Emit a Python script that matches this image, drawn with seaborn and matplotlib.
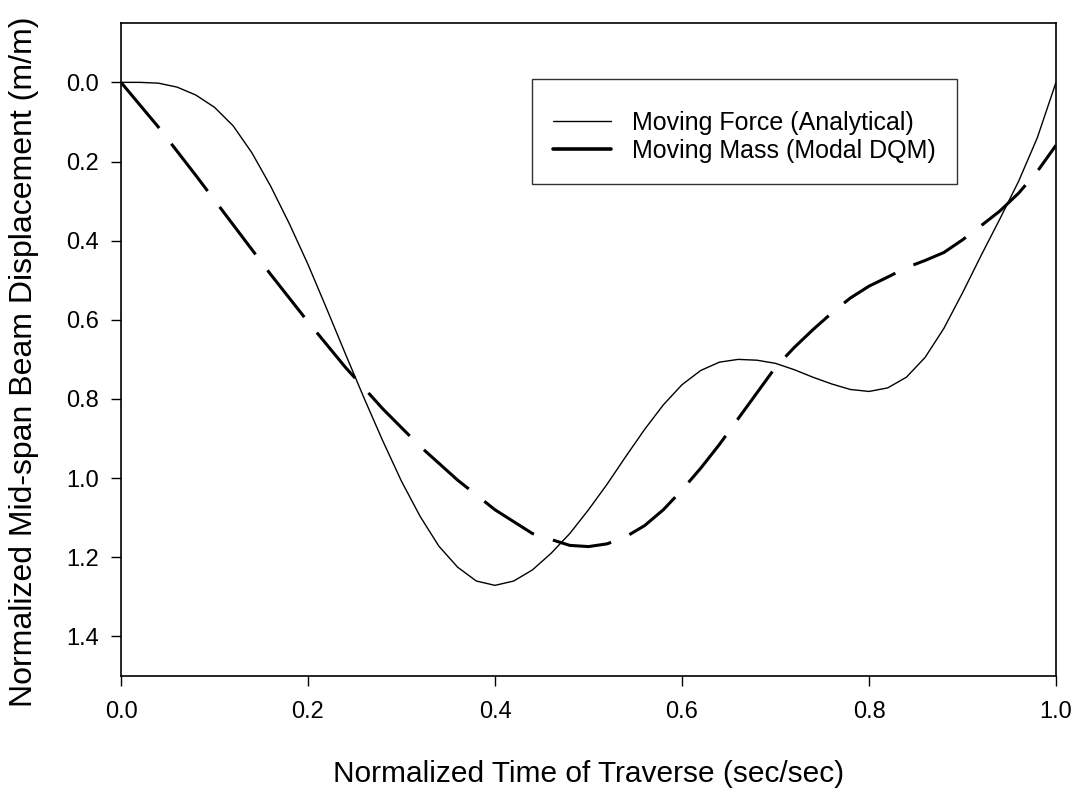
import numpy as np
import pandas as pd
import matplotlib
matplotlib.use("Agg")
import matplotlib.pyplot as plt
from matplotlib.lines import Line2D
import seaborn as sns

# ---- data ----
force_t = [0.00, 0.02, 0.04, 0.06, 0.08, 0.10, 0.12, 0.14, 0.16, 0.18,
           0.20, 0.22, 0.24, 0.26, 0.28, 0.30, 0.32, 0.34, 0.36, 0.38,
           0.40, 0.42, 0.44, 0.46, 0.48, 0.50, 0.52, 0.54, 0.56, 0.58,
           0.60, 0.62, 0.64, 0.66, 0.68, 0.70, 0.72, 0.74, 0.76, 0.78,
           0.80, 0.82, 0.84, 0.86, 0.88, 0.90, 0.92, 0.94, 0.96, 0.98, 1.00]
force_v = [0.000, 0.000, 0.002, 0.012, 0.032, 0.063, 0.110, 0.178, 0.262, 0.357,
           0.460, 0.572, 0.686, 0.798, 0.906, 1.008, 1.097, 1.172, 1.225, 1.260,
           1.271, 1.260, 1.232, 1.190, 1.140, 1.080, 1.015, 0.945, 0.877, 0.815,
           0.764, 0.728, 0.707, 0.700, 0.702, 0.710, 0.726, 0.745, 0.762, 0.776,
           0.781, 0.772, 0.745, 0.695, 0.622, 0.532, 0.437, 0.345, 0.250, 0.140, 0.000]

mass_t = [0.00, 0.04, 0.08, 0.12, 0.16, 0.20, 0.24, 0.28, 0.32, 0.36,
          0.40, 0.44, 0.48, 0.50, 0.52, 0.54, 0.56, 0.58, 0.60, 0.62,
          0.64, 0.66, 0.68, 0.70, 0.72, 0.74, 0.76, 0.78, 0.80, 0.82,
          0.84, 0.86, 0.88, 0.90, 0.92, 0.94, 0.96, 0.98, 1.00]
mass_v = [0.000, 0.113, 0.235, 0.360, 0.485, 0.605, 0.720, 0.825, 0.920, 1.005,
          1.080, 1.140, 1.170, 1.173, 1.166, 1.148, 1.120, 1.080, 1.030, 0.975,
          0.915, 0.850, 0.785, 0.720, 0.670, 0.625, 0.583, 0.545, 0.515, 0.492,
          0.468, 0.450, 0.430, 0.398, 0.362, 0.325, 0.280, 0.225, 0.159]

labels = ["Moving Force (Analytical)", "Moving Mass (Modal DQM)"]
x_ticks = [0.0, 0.2, 0.4, 0.6, 0.8, 1.0]
y_ticks = [0.0, 0.2, 0.4, 0.6, 0.8, 1.0, 1.2, 1.4]

sns.set_style("ticks")
plt.rcParams["font.family"] = ["Liberation Sans", "DejaVu Sans"]
plt.rcParams["text.color"] = "black"
plt.rcParams["axes.labelcolor"] = "black"

df = pd.concat([
    pd.DataFrame({"t": force_t, "v": force_v, "series": labels[0]}),
    pd.DataFrame({"t": mass_t, "v": mass_v, "series": labels[1]}),
])

fig = plt.figure(figsize=(10.8, 7.93), dpi=100)
ax = fig.add_axes([121/1080, 1-676/793, (1056-121)/1080, (676-23)/793])

sns.lineplot(data=df, x="t", y="v", hue="series", style="series",
             palette=["black", "black"], dashes=[(None, None), (19.5, 6.5)],
             size="series", sizes=[1.0, 2.2], ax=ax, sort=False,
             estimator=None, legend=False)

ax.set_xlim(0, 1.0)
ax.set_ylim(1.5, -0.15)
ax.set_xticks(x_ticks)
ax.set_yticks(y_ticks)
ax.set_xticklabels([f"{v:.1f}" for v in x_ticks])
ax.set_yticklabels([f"{v:.1f}" for v in y_ticks])
ax.tick_params(direction="out", length=7, width=1, colors="black",
               labelcolor="black", labelsize=17)
ax.tick_params(axis="y", pad=9)
ax.tick_params(axis="x", pad=11)
for s in ax.spines.values():
    s.set_visible(True)
    s.set_linewidth(1.2)
    s.set_color("black")

ax.set_xlabel("Normalized Time of Traverse (sec/sec)", fontsize=21.5,
              color="black")
ax.set_ylabel("Normalized Mid-span Beam Displacement (m/m)", fontsize=23,
              color="black")
ax.xaxis.set_label_coords(0.5, -0.128)
ax.yaxis.set_label_coords(-0.088, 0.481)

handles = [Line2D([], [], color="black", lw=1.0),
           Line2D([], [], color="black", lw=2.6)]
leg = ax.legend(handles, labels, loc="upper left",
                bbox_to_anchor=(0.4396, 0.914), borderaxespad=0,
                fontsize=18, frameon=True, fancybox=False, handlelength=2.3,
                handletextpad=0.85, borderpad=0.85, labelspacing=0.15,
                title=" ", title_fontsize=5)
leg.get_frame().set_edgecolor("black")
leg.get_frame().set_linewidth(1.0)
for txt in leg.get_texts():
    txt.set_color("black")

fig.savefig("out.png", dpi=100)
